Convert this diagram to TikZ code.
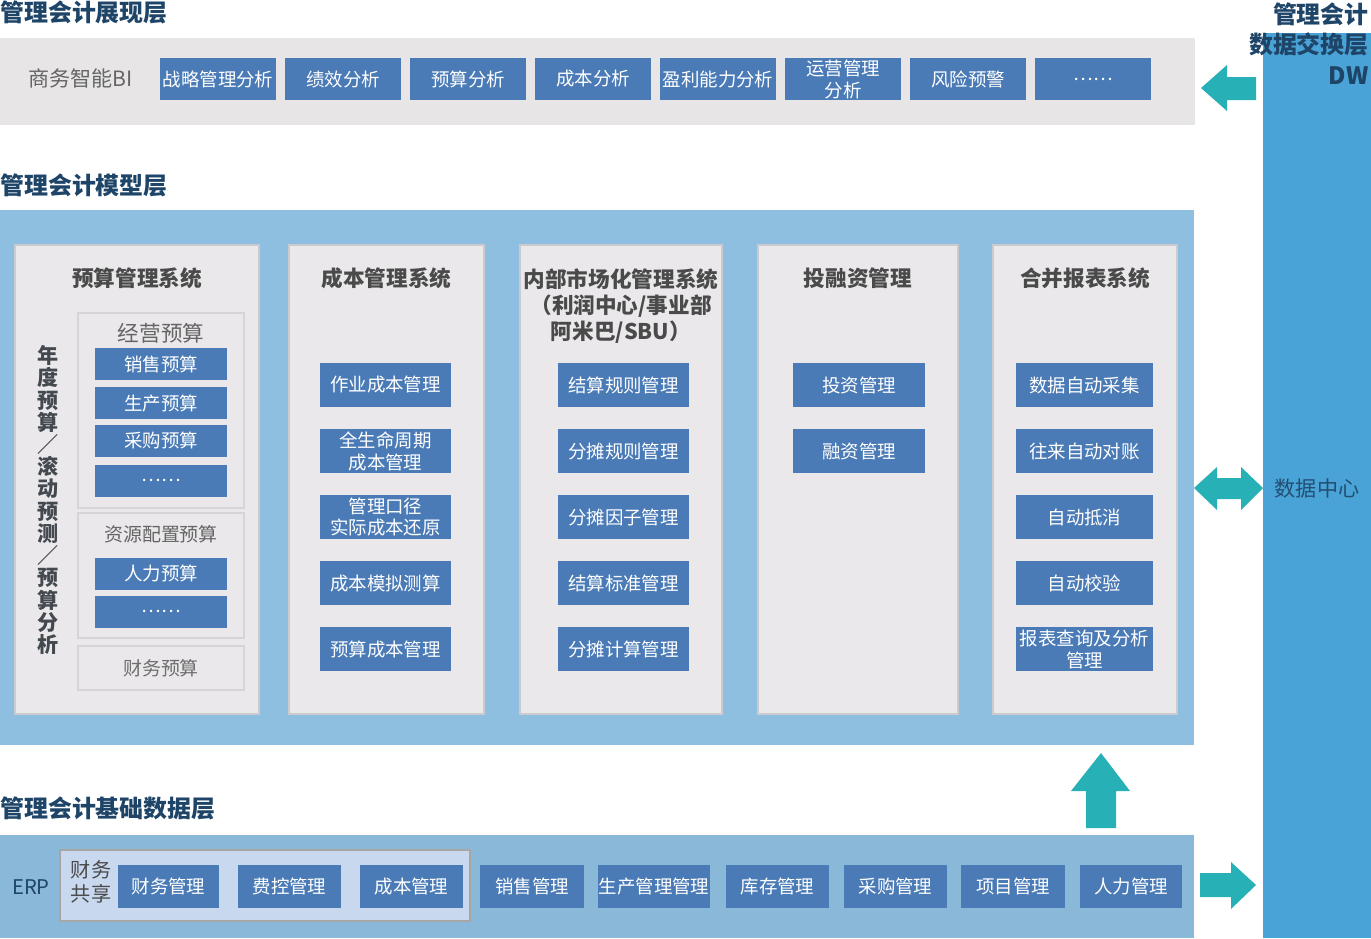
\documentclass[tikz,border=0pt]{standalone}
\usepackage{fontspec}
\setmainfont{Noto Sans CJK SC}
\usetikzlibrary{positioning}
\definecolor{ItemBlue}{HTML}{4A7BB6}
\definecolor{BandGray}{HTML}{E7E5E6}
\definecolor{BandBlue}{HTML}{8EBEE0}
\definecolor{PanelGray}{HTML}{EAE8EA}
\definecolor{PanelLine}{HTML}{CACACF}
\definecolor{ShareBlue}{HTML}{C8D8EE}
\definecolor{DwBlue}{HTML}{4AA3D6}
\definecolor{ArrowTeal}{HTML}{27B1B7}
\definecolor{TitleNavy}{HTML}{1E4468}
\definecolor{LabelGray}{HTML}{4A4A4A}

\begin{document}
\begin{tikzpicture}[x=0.02cm, y=-0.02cm,
    boxw/.style={minimum width=#1*0.02cm},
    boxh/.style={minimum height=#1*0.02cm},
    layertitle/.style={anchor=west, inner sep=0pt, text=TitleNavy, font=\fontsize{13.6}{16}\selectfont\bfseries},
    panel/.style={fill=PanelGray, draw=PanelLine, line width=0.6pt, inner sep=0pt},
    paneltitle/.style={text=LabelGray, align=center, inner sep=0pt, font=\fontsize{12.3}{14.8}\selectfont\bfseries},
    subtitle/.style={text=LabelGray!85, inner sep=0pt, font=\fontsize{11.5}{14}\selectfont},
    item/.style={fill=ItemBlue, text=white, inner sep=0pt, align=center, font=\fontsize{10.5}{12.5}\selectfont},
    arrowblock/.style={fill=ArrowTeal}]
\useasboundingbox (0,0) rectangle (1371,938);

\fill[BandGray] (0,38) rectangle (1195,125);
\fill[BandBlue] (0,210) rectangle (1194,745);
\fill[BandBlue!97!black] (0,835) rectangle (1194,938);
\fill[DwBlue] (1263,33) rectangle (1371,938);

\node[layertitle] (showt) at (0,12) {管理会计展现层};
\node[layertitle] (modelt) at (0,185) {管理会计模型层};
\node[layertitle] (baset) at (0,808) {管理会计基础数据层};
\node[anchor=north east, align=right, inner sep=0pt, text=TitleNavy, font=\fontsize{13.6}{17.6}\selectfont\bfseries] (dwt) at (1369,2) {管理会计\\数据交换层\\DW};
\node[text=TitleNavy!90!DwBlue, font=\fontsize{12}{14}\selectfont] (dwc) at (1317,488) {数据中心};

\node[text=LabelGray!85, font=\fontsize{12}{14}\selectfont] (bi) at (80.5,78) {商务智能BI};
\foreach \t [count=\i from 0] in {战略管理分析,绩效分析,预算分析,成本分析,盈利能力分析,{运营管理\\分析},风险预警,……}
    \node[item, boxw=116, boxh=42] (bi\i) at ({218+125*\i},79) {\t};

\node[panel, boxw=244, boxh=469] (budget) at (137,479.5) {};
\node[panel, boxw=195, boxh=469] (cost) at (386.5,479.5) {};
\node[panel, boxw=202, boxh=469] (market) at (621,479.5) {};
\node[panel, boxw=200, boxh=469] (invest) at (858,479.5) {};
\node[panel, boxw=184, boxh=469] (consol) at (1085,479.5) {};

\node[paneltitle] (budgett) at (137,278) {预算管理系统};
\node[paneltitle] (costt) at (386.5,278) {成本管理系统};
\node[paneltitle, anchor=north] (markett) at (621,268) {内部市场化管理系统\\（利润中心/事业部\\阿米巴/SBU）};
\node[paneltitle] (investt) at (858,278) {投融资管理};
\node[paneltitle] (consolt) at (1085,278) {合并报表系统};

\node[text=LabelGray!85!TitleNavy, align=center, inner sep=0pt, font=\fontsize{12}{12.65}\selectfont\bfseries] (budgetv) at (48.5,500)
    {年\\度\\预\\算\\／\\滚\\动\\预\\测\\／\\预\\算\\分\\析};
\node[panel, draw=PanelLine!80, boxw=166, boxh=195] (opbud) at (161,410.5) {};
\node[subtitle, font=\fontsize{12.3}{14}\selectfont] (opbudt) at (161,333) {经营预算};
\foreach \t/\y [count=\i] in {销售预算/364, 生产预算/403, 采购预算/440.5, ……/480.5}
    \node[item, boxw=132, boxh=32] (op\i) at (161,\y) {\t};
\node[panel, draw=PanelLine!80, boxw=166, boxh=125] (resbud) at (161,575.5) {};
\node[subtitle, font=\fontsize{10.8}{13}\selectfont] (resbudt) at (161,534) {资源配置预算};
\foreach \t/\y [count=\i] in {人力预算/573.5, ……/611.5}
    \node[item, boxw=132, boxh=32] (res\i) at (161,\y) {\t};
\node[panel, draw=PanelLine!80, boxw=166, boxh=44, text=LabelGray!80, font=\fontsize{10.8}{13}\selectfont] (finbud) at (161,668) {财务预算};

\foreach \t [count=\i from 0] in {作业成本管理, {全生命周期\\成本管理}, {管理口径\\实际成本还原}, 成本模拟测算, 预算成本管理}
    \node[item, boxw=131, boxh=44] (cost\i) at (385.5,{385+66*\i}) {\t};
\foreach \t [count=\i from 0] in {结算规则管理, 分摊规则管理, 分摊因子管理, 结算标准管理, 分摊计算管理}
    \node[item, boxw=131, boxh=44] (market\i) at (623.5,{385+66*\i}) {\t};
\foreach \t [count=\i from 0] in {投资管理, 融资管理}
    \node[item, boxw=132, boxh=44] (invest\i) at (859,{385+66*\i}) {\t};
\foreach \t [count=\i from 0] in {数据自动采集, 往来自动对账, 自动抵消, 自动校验, {报表查询及分析\\管理}}
    \node[item, boxw=137, boxh=44] (consol\i) at (1084.5,{385+66*\i}) {\t};

\node[text=TitleNavy, font=\fontsize{11.5}{14}\selectfont] (erp) at (31,887) {ERP};
\node[fill=ShareBlue, draw=gray!70, line width=0.6pt, boxw=410, boxh=71] (share) at (265,885.5) {};
\node[align=center, inner sep=0pt, text=LabelGray, font=\fontsize{11.5}{14}\selectfont] (sharet) at (91,882) {财务\\共享};
\foreach \t/\x/\w [count=\i] in {财务管理/168.5/101, 费控管理/289.5/103, 成本管理/411.5/103, 销售管理/532/104, 生产管理管理/654/112, 库存管理/777.5/103, 采购管理/895.5/103, 项目管理/1013/104, 人力管理/1131/102}
    \node[item, boxw=\w, boxh=43] (erp\i) at (\x,886) {\t};

\fill[arrowblock] (1201,88) -- (1227,65) -- (1227,77) -- (1256,77) -- (1256,100) -- (1227,100) -- (1227,111) -- cycle;
\fill[arrowblock] (1194,488) -- (1217,467) -- (1217,478) -- (1241,478) -- (1241,467) -- (1263,488) -- (1241,510) -- (1241,499) -- (1217,499) -- (1217,510) -- cycle;
\fill[arrowblock] (1101,753) -- (1130,791) -- (1116,791) -- (1116,828) -- (1086,828) -- (1086,791) -- (1071,791) -- cycle;
\fill[arrowblock] (1256,885) -- (1231,862) -- (1231,873) -- (1200,873) -- (1200,897) -- (1231,897) -- (1231,909) -- cycle;
\end{tikzpicture}
\end{document}
